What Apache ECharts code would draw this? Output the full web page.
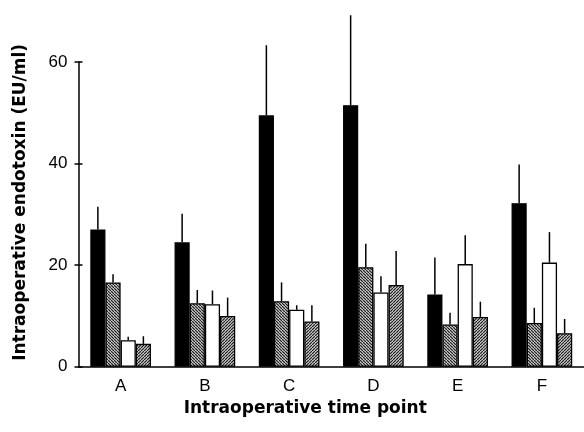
<!DOCTYPE html>
<html>
<head>
<meta charset="utf-8">
<script src="https://cdn.jsdelivr.net/npm/echarts@6/dist/echarts.min.js"></script>
<style>html,body{margin:0;padding:0;background:#fff;}#c{width:584px;height:432px;}</style>
</head>
<body>
<div id="c"></div>
<script>
var categories = ['A', 'B', 'C', 'D', 'E', 'F'];
var yTicks = [0, 20, 40, 60];
var s1Mean = [27.0, 24.5, 49.5, 51.5, 14.2, 32.2];
var s1Err  = [4.5, 5.6, 13.8, 17.7, 7.3, 7.6];
var s2Mean = [16.6, 12.5, 12.9, 19.6, 8.3, 8.6];
var s2Err  = [1.6, 2.6, 3.7, 4.6, 2.3, 3.0];
var s3Mean = [5.2, 12.3, 11.2, 14.6, 20.2, 20.5];
var s3Err  = [0.7, 2.7, 0.9, 3.2, 5.7, 6.0];
var s4Mean = [4.5, 10.0, 8.9, 16.1, 9.8, 6.6];
var s4Err  = [1.5, 3.6, 3.2, 6.7, 3.0, 2.8];

var means = [s1Mean, s2Mean, s3Mean, s4Mean];
var errs = [s1Err, s2Err, s3Err, s4Err];
var CAT_GAP = 0.28;

function hatch(dir) {
  var p = 3;
  var c = document.createElement('canvas');
  c.width = p; c.height = p;
  var g = c.getContext('2d');
  g.fillStyle = '#fff';
  g.fillRect(0, 0, p, p);
  g.strokeStyle = '#222';
  g.lineWidth = 1.4;
  g.beginPath();
  for (var k = -p; k <= p; k += p) {
    if (dir === 'back') { g.moveTo(k, 0); g.lineTo(k + p, p); }
    else { g.moveTo(k, p); g.lineTo(k + p, 0); }
  }
  g.stroke();
  return { image: c, repeat: 'repeat' };
}

var fills = ['#000', hatch('back'), '#fff', hatch('fwd')];

var errData = [];
for (var s = 0; s < 4; s++) {
  for (var i = 0; i < categories.length; i++) {
    errData.push([i, means[s][i], means[s][i] + errs[s][i], s]);
  }
}

var series = [];
for (var s2 = 0; s2 < 4; s2++) {
  series.push({
    type: 'bar',
    data: means[s2],
    barGap: 0,
    barCategoryGap: (CAT_GAP * 100) + '%',
    itemStyle: { color: fills[s2], borderColor: '#000', borderWidth: 1.3 },
    emphasis: { disabled: true },
    z: 2
  });
}
series.push({
  type: 'custom',
  data: errData,
  clip: false,
  z: 3,
  renderItem: function (params, api) {
    var ci = api.value(0);
    var k = api.value(3);
    var p0 = api.coord([ci, api.value(1)]);
    var p1 = api.coord([ci, api.value(2)]);
    var band = api.size([1, 0])[0];
    var bw = band * (1 - CAT_GAP) / 4;
    var cx = p0[0] + (k - 1.5) * bw;
    return {
      type: 'line',
      shape: { x1: cx, y1: p0[1], x2: cx, y2: p1[1] },
      style: { stroke: '#000', lineWidth: 1.5 }
    };
  }
});

var yCommon = {
  type: 'value', min: 0, max: 60, interval: 20, position: 'left',
  splitLine: { show: false }
};

var chart = echarts.init(document.getElementById('c'));
chart.setOption({
  animation: false,
  backgroundColor: '#fff',
  grid: { left: 78.5, right: -4, top: 62, bottom: 65.3 },
  xAxis: {
    type: 'category',
    data: categories,
    axisLine: { lineStyle: { color: '#000', width: 1.5 } },
    axisTick: { show: false },
    axisLabel: { color: '#000', fontSize: 17, fontFamily: 'Liberation Sans', margin: 11 },
    name: 'Intraoperative time point',
    nameLocation: 'middle',
    nameGap: 31,
    nameTextStyle: { color: '#000', fontSize: 17, fontWeight: 'bold', fontFamily: 'DejaVu Sans', padding: [0, 52, 0, 0] }
  },
  yAxis: [
    Object.assign({}, yCommon, {
      axisLine: { show: true, lineStyle: { color: '#000', width: 1.5 } },
      axisTick: { show: true, length: 4, lineStyle: { color: '#000', width: 1.5 } },
      axisLabel: { color: '#000', fontSize: 17, fontFamily: 'Liberation Sans', margin: 11,
        formatter: function (v) { return yTicks.indexOf(v) >= 0 ? String(v) : ''; } },
      name: 'Intraoperative endotoxin (EU/ml)',
      nameLocation: 'middle',
      nameGap: 49,
      nameTextStyle: { color: '#000', fontSize: 17, fontWeight: 'bold', fontFamily: 'DejaVu Sans', padding: [0, 0, 0, 24] }
    }),
    Object.assign({}, yCommon, {
      axisLine: { show: false },
      axisTick: { show: true, inside: true, length: 4, lineStyle: { color: '#000', width: 1.5 } },
      axisLabel: { show: false }
    })
  ],
  series: series
});
</script>
</body>
</html>
